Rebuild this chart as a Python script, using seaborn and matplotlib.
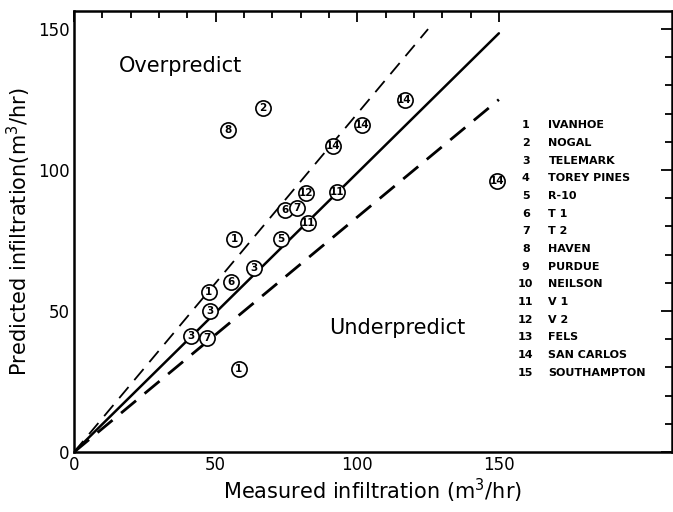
import matplotlib
matplotlib.use("Agg")
import matplotlib.pyplot as plt
import seaborn as sns
import pandas as pd
from matplotlib.ticker import FixedLocator

sns.set_theme(style="white")
plt.rcParams['font.family'] = ['DejaVu Sans']
plt.rcParams.update({"text.color": "black", "axes.labelcolor": "black",
                     "xtick.color": "black", "ytick.color": "black"})

# Data: site id, measured, predicted
site_ids  = [1, 1, 1, 2, 3, 3, 3, 5, 6, 6, 7, 7, 8, 11, 11, 12, 14, 14, 14, 14]
measured  = [56.6, 47.5, 58.2, 66.7, 63.5, 47.9, 41.4, 73.0, 74.5, 55.3, 78.7, 47.0,
             54.2, 92.9, 82.6, 81.9, 116.7, 101.8, 91.5, 149.3]
predicted = [75.7, 56.9, 29.5, 121.9, 65.4, 49.9, 41.2, 75.7, 86.0, 60.2, 86.4, 40.6,
             114.1, 92.4, 81.4, 91.7, 124.8, 115.9, 108.4, 96.3]

site_names = ["IVANHOE", "NOGAL", "TELEMARK", "TOREY PINES", "R-10", "T 1", "T 2",
              "HAVEN", "PURDUE", "NEILSON", "V 1", "V 2", "FELS", "SAN CARLOS",
              "SOUTHAMPTON"]

# reference lines (x end, y end)
line_solid = ([0, 150], [0, 148.5])
line_upper = ([0, 125], [0, 150])
line_lower = ([0, 150], [0, 125])

df = pd.DataFrame({"id": site_ids, "measured": measured, "predicted": predicted})

fig = plt.figure(figsize=(6.73, 5.12), dpi=100)
ax = fig.add_axes([0.110, 0.117, 0.888, 0.862])

ax.plot(*line_solid, color="black", lw=1.8, zorder=2)
ax.plot(*line_upper, color="black", lw=1.3, dashes=(8, 5), zorder=2)
ax.plot(*line_lower, color="black", lw=2.0, dashes=(7, 4), zorder=2)

sns.scatterplot(data=df, x="measured", y="predicted", ax=ax, s=120,
                facecolor="white", edgecolor="black", linewidth=1.2, zorder=3,
                legend=False)
for _, r in df.iterrows():
    ax.text(r["measured"], r["predicted"], str(int(r["id"])), ha="center",
            va="center", fontsize=7.5, fontweight="bold", zorder=4)

ax.set_xlim(0, 211)
ax.set_ylim(0, 156.5)

ax.xaxis.set_major_locator(FixedLocator([0, 50, 100, 150]))
ax.yaxis.set_major_locator(FixedLocator([0, 50, 100, 150]))
minor = [v for v in range(10, 150, 10) if v % 50]
ax.xaxis.set_minor_locator(FixedLocator(minor))
ax.yaxis.set_minor_locator(FixedLocator(minor))
ax.tick_params(which="both", direction="in", top=True, right=True,
               color="black", width=1.3, labelsize=12, pad=3)
ax.tick_params(which="major", length=8)
ax.tick_params(which="minor", length=5)
for s in ax.spines.values():
    s.set_color("black")
    s.set_linewidth(1.8)

ax.set_xlabel("Measured infiltration (m$^3$/hr)", fontsize=15, labelpad=2)
ax.set_ylabel("Predicted infiltration(m$^3$/hr)", fontsize=15, labelpad=4)

ax.text(16, 137, "Overpredict", fontsize=15, va="center", ha="left")
ax.text(90, 44, "Underpredict", fontsize=15, va="center", ha="left")

for i, name in enumerate(site_names):
    y = 115.9 - i * 6.27
    ax.text(159.5, y, str(i + 1), fontsize=8, fontweight="bold", ha="center", va="center")
    ax.text(167.5, y, name, fontsize=8, fontweight="bold", ha="left", va="center")

fig.savefig("out.png", dpi=100)
